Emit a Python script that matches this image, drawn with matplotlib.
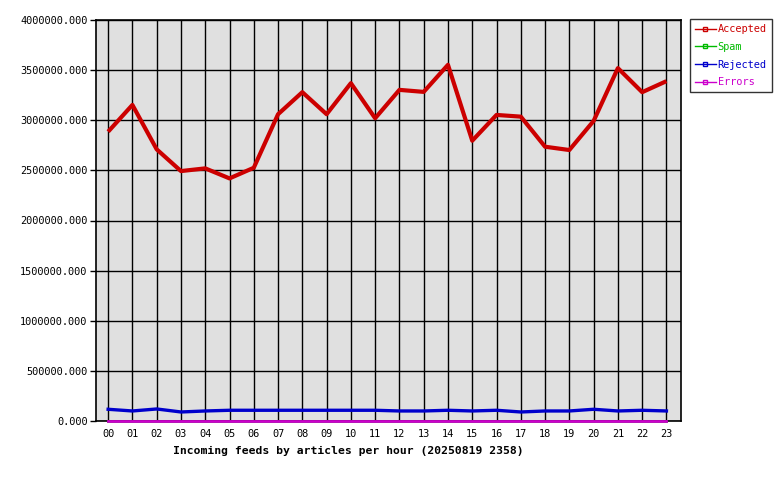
import matplotlib
matplotlib.use("Agg")
import matplotlib.pyplot as plt
from matplotlib.ticker import FuncFormatter

# hourly article counts
hours = ["00", "01", "02", "03", "04", "05", "06", "07", "08", "09", "10", "11",
         "12", "13", "14", "15", "16", "17", "18", "19", "20", "21", "22", "23"]
accepted = [2886000, 3153000, 2710000, 2493000, 2520000, 2420000, 2526000, 3060000,
            3280000, 3060000, 3370000, 3020000, 3303000, 3283000, 3553000, 2796000,
            3053000, 3036000, 2736000, 2703000, 2993000, 3520000, 3280000, 3390000]
spam = [0] * 24
rejected = [117000, 100000, 120000, 90000, 100000, 107000, 107000, 107000,
            107000, 107000, 107000, 107000, 100000, 100000, 107000, 100000,
            107000, 90000, 100000, 100000, 117000, 100000, 107000, 100000]
errors = [0] * 24

mono = "DejaVu Sans Mono"

fig = plt.figure(figsize=(7.8, 4.8), dpi=100)
ax = fig.add_axes([96 / 780, 1 - 421 / 480, 585 / 780, 401 / 480])
ax.set_facecolor("#e0e0e0")

x = list(range(len(hours)))
ax.plot(x, accepted, color="#cc0000", lw=3, solid_capstyle="butt", zorder=3)
ax.plot(x, spam, color="#00bb00", lw=2, zorder=3, clip_on=False)
ax.plot(x, rejected, color="#0000cc", lw=2.4, zorder=3)
ax.plot(x, errors, color="#cc00cc", lw=2, zorder=5, clip_on=False)

ax.set_xlim(-0.5, 23.6)
ax.set_ylim(0, 4000000)
ax.set_xticks(x)
ax.set_xticklabels(hours, fontfamily=mono, fontsize=7.4)
ax.set_yticks(range(0, 4000001, 500000))
ax.yaxis.set_major_formatter(FuncFormatter(lambda v, p: "%.3f" % v))
for lab in ax.get_yticklabels():
    lab.set_fontfamily(mono)
    lab.set_fontsize(7.4)
ax.tick_params(axis="y", length=4, width=1, pad=2)
ax.tick_params(axis="x", length=0, pad=6)
ax.grid(True, color="black", lw=1, zorder=1)
ax.set_axisbelow(True)
for s in ax.spines.values():
    s.set_linewidth(1.2)
    s.set_zorder(4)

fig.text(348.5 / 780, 1 - 451 / 480, "Incoming feeds by articles per hour (20250819 2358)",
         ha="center", va="center", fontfamily=mono, fontsize=8.2, fontweight="bold")

# legend drawn as its own box on the right
names = ["Accepted", "Spam", "Rejected", "Errors"]
colors = ["#cc0000", "#00bb00", "#0000cc", "#cc00cc"]
handles = [plt.Line2D([], [], color=c, lw=1, marker="s", markersize=2.5,
                      markerfacecolor="none", markeredgecolor=c) for c in colors]
leg = fig.legend(handles, names, loc="upper left",
                 bbox_to_anchor=(690 / 780, 1 - 19 / 480),
                 prop={"family": mono, "size": 7.4}, frameon=True, fancybox=False,
                 handlelength=2.0, handletextpad=0.2, borderpad=0.5, labelspacing=0.75,
                 borderaxespad=0)
leg.get_frame().set_edgecolor("black")
leg.get_frame().set_linewidth(1)
for t, c in zip(leg.get_texts(), colors):
    t.set_color(c)

fig.savefig("out.png", dpi=100)
